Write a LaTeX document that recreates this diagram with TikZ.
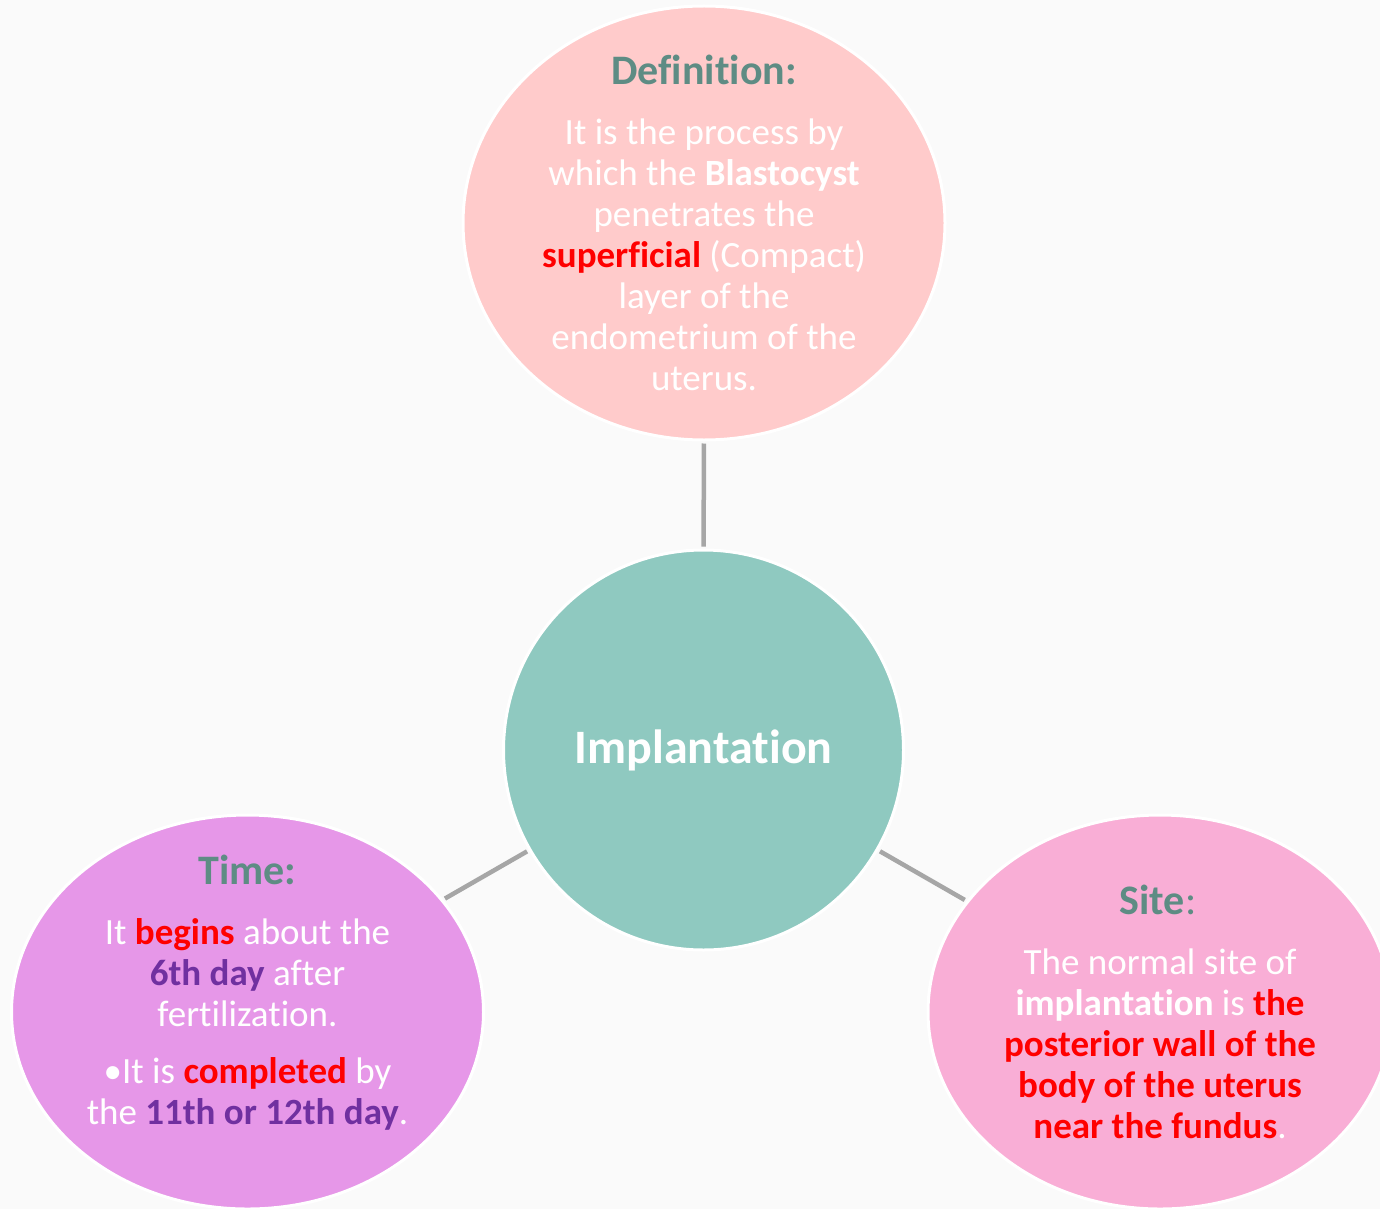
\documentclass[tikz,border=0pt]{standalone}
\usepackage{fontspec}
\setmainfont[Ligatures=NoCommon]{Carlito}
\usetikzlibrary{shapes.geometric}

\definecolor{bgcol}{HTML}{FAFAFA}
\definecolor{defcol}{HTML}{FFCBCB}
\definecolor{implcol}{HTML}{8FC9C0}
\definecolor{timecol}{HTML}{E697E8}
\definecolor{sitecol}{HTML}{F9AED6}
\definecolor{titlecol}{HTML}{5E8C84}
\definecolor{hired}{HTML}{FF0000}
\definecolor{dkpurple}{HTML}{7030A0}
\definecolor{linkgray}{HTML}{A6A6A6}

\newcommand{\redb}[1]{\textbf{\textcolor{hired}{#1}}}
\newcommand{\purb}[1]{\textbf{\textcolor{dkpurple}{#1}}}

\tikzset{
  bubble/.style={ellipse, draw=white, line width=3pt, inner sep=0pt},
  heading/.style={font=\bfseries\fontsize{42}{50}\selectfont, text=titlecol, inner sep=0pt},
  bodytext/.style={font=\fontsize{37}{41}\selectfont, text=white, align=center, inner sep=0pt},
  link/.style={draw=linkgray, line width=4.5pt, shorten <=2pt, shorten >=2pt},
}

\begin{document}
\begin{tikzpicture}[x=1pt, y=-1pt]
  \fill[bgcol] (0,0) rectangle (1380,1209);
  \useasboundingbox (0,0) rectangle (1380,1209);

  % bubbles
  \node[bubble, fill=defcol, minimum width=482pt, minimum height=434pt] (def) at (704,223) {};
  \node[bubble, circle, fill=implcol, minimum size=400pt] (impl) at (703.5,750) {};
  \node[bubble, fill=timecol, minimum width=472pt, minimum height=394pt] (time) at (247.5,1012) {};
  \node[bubble, fill=sitecol, minimum width=464pt, minimum height=394pt] (site) at (1160,1012) {};

  % links
  \draw[link] (impl) -- (def);
  \draw[link] (impl) -- (time);
  \draw[link] (impl) -- (site);

  % texts
  \node[font=\bfseries\fontsize{48}{56}\selectfont, text=white] (impltxt) at (impl.center) {Implantation};

  \node[heading] (deftitle) at (704,70) {Definition:};
  \node[bodytext] (defbody) at (704,255) {It is the process by\\
    which the \textbf{Blastocyst}\\
    penetrates the\\
    \redb{superficial} (Compact)\\
    layer of the\\
    endometrium of the\\
    uterus.};

  \node[heading] (timetitle) at (247.5,870) {Time:};
  \node[bodytext] (timebody) at (247.5,1024) {It \redb{begins} about the\\
    \purb{6th day} after\\
    fertilization.\\[16pt]
    \textbullet It is \redb{completed} by\\
    the \purb{11th or 12th day}.};

  \node[heading] (sitetitle) at (1158,900) {Site\textmd{:}};
  \node[bodytext] (sitebody) at (1160,1044) {The normal site of\\
    \textbf{implantation} is \redb{the}\\
    \redb{posterior wall of the}\\
    \redb{body of the uterus}\\
    \redb{near the fundus}.};
\end{tikzpicture}
\end{document}
